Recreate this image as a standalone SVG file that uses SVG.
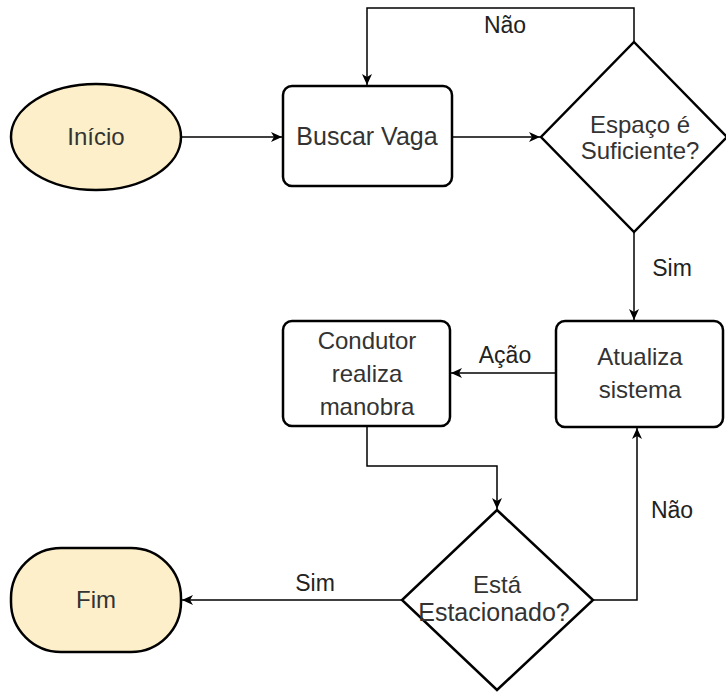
<svg xmlns="http://www.w3.org/2000/svg" width="726" height="696" viewBox="0 0 726 696">
<style>
.node{fill:#ffffff;stroke:#000;stroke-width:2.5}
.term{fill:#fcefc9;stroke:#000;stroke-width:2.5}
.conn{fill:none;stroke:#000;stroke-width:1.5;marker-end:url(#arr)}
text{font-family:"Liberation Sans",Arial,sans-serif;font-size:24px;fill:#333;text-anchor:middle}
.lbl{fill:#222;font-size:23px}
</style>
<defs>
<marker id="arr" markerUnits="userSpaceOnUse" markerWidth="12" markerHeight="10" refX="11" refY="5" orient="auto">
<path d="M0,0 L11,5 L0,10 L3,5 Z" fill="#000"/>
</marker>
</defs>
<rect width="726" height="696" fill="#fff"/>
<g id="connectors">
<path class="conn" d="M181,137 H282"/>
<path class="conn" d="M452,137 H540"/>
<path class="conn" d="M634,42 V8 H367 V85"/>
<path class="conn" d="M634,232 V320"/>
<path class="conn" d="M556,373 H451"/>
<path class="conn" d="M367,426 V466 H497 V509"/>
<path class="conn" d="M402,600 H182"/>
<path class="conn" d="M593,600 H637 V428"/>
<text class="lbl" x="505" y="33">Não</text>
<text class="lbl" x="672" y="276">Sim</text>
<text class="lbl" x="505" y="363">Ação</text>
<text class="lbl" x="315" y="591">Sim</text>
<text class="lbl" x="672" y="518">Não</text>
</g>
<g id="inicio">
<ellipse class="term" cx="96" cy="137" rx="85" ry="53"/>
<text x="96" y="145">Início</text>
</g>
<g id="buscar">
<rect class="node" x="283" y="86" width="169" height="100" rx="9"/>
<text x="367" y="145" style="font-size:25px">Buscar Vaga</text>
</g>
<g id="espaco">
<polygon class="node" points="634,42 727,137 634,232 541,137"/>
<text x="640" y="133">Espaço é</text>
<text x="640" y="159">Suficiente?</text>
</g>
<g id="atualiza">
<rect class="node" x="556" y="321" width="167" height="106" rx="9"/>
<text x="640" y="365">Atualiza</text>
<text x="640" y="398">sistema</text>
</g>
<g id="condutor">
<rect class="node" x="283" y="321" width="167" height="105" rx="9"/>
<text x="367" y="349">Condutor</text>
<text x="367" y="382">realiza</text>
<text x="367" y="415">manobra</text>
</g>
<g id="estacionado">
<polygon class="node" points="497,510 593,600 497,690 402,600"/>
<text x="497" y="593">Está</text>
<text x="494" y="621" style="font-size:25px">Estacionado?</text>
</g>
<g id="fim">
<rect class="term" x="11" y="548" width="170" height="104" rx="50"/>
<text x="96" y="608">Fim</text>
</g>
</svg>
